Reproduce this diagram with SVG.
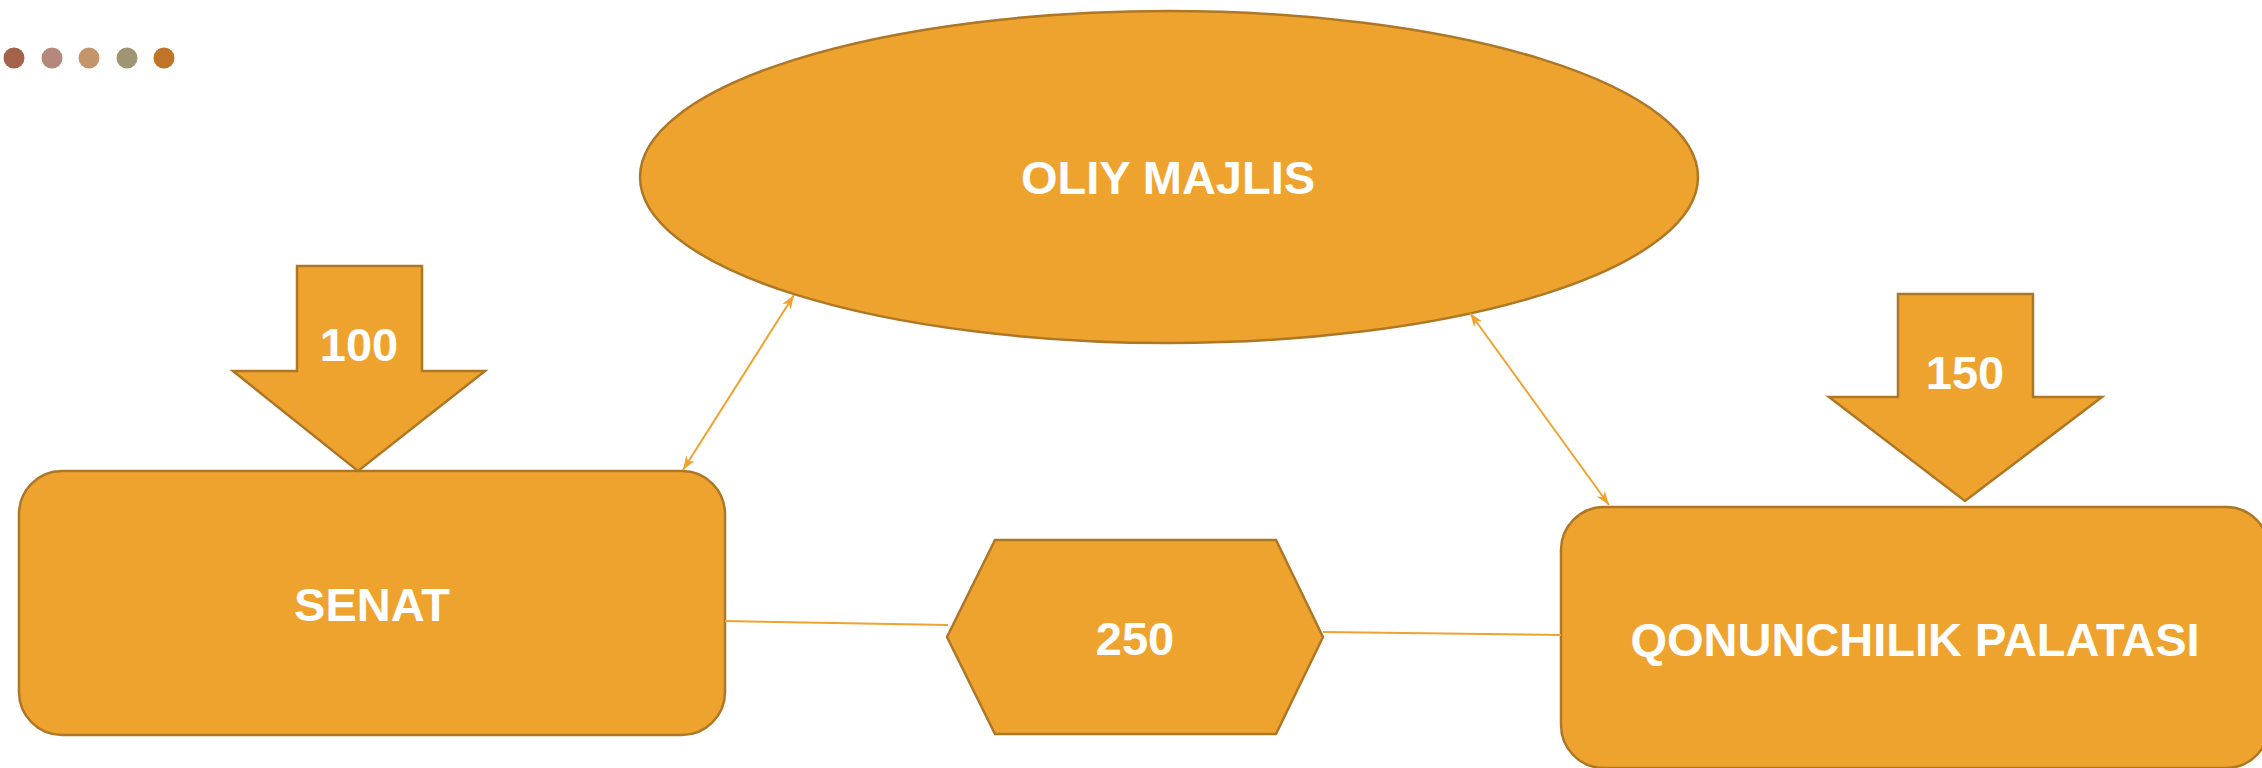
<svg xmlns="http://www.w3.org/2000/svg" width="2262" height="768" viewBox="0 0 2262 768">
<defs>
<style>
.shape{fill:#EFA32F;stroke:#AD7726;stroke-width:2.5;}
.lbl{font-family:"Liberation Sans",Arial,sans-serif;font-weight:bold;font-size:47px;fill:#FFFFFF;text-anchor:middle;}
.conn{stroke:#EFA22E;stroke-width:2;fill:none;}
</style>
<marker id="ah" viewBox="0 0 14 10" refX="14" refY="5" markerWidth="14" markerHeight="10" markerUnits="userSpaceOnUse" orient="auto-start-reverse">
<path d="M0,0 L14,5 L0,10 L4,5 Z" fill="#EFA22E"/>
</marker>
</defs>
<rect width="2262" height="768" fill="#FFFFFF"/>
<g id="dots">
<circle cx="14" cy="58" r="10.5" fill="#A4624A"/>
<circle cx="52" cy="58" r="10.5" fill="#B6887C"/>
<circle cx="89" cy="58" r="10.5" fill="#C4956A"/>
<circle cx="127" cy="58" r="10.5" fill="#A09572"/>
<circle cx="164" cy="58" r="10.5" fill="#C07428"/>
</g>
<g id="oliy-majlis">
<ellipse class="shape" cx="1169" cy="177" rx="529" ry="166"/>
<text class="lbl" x="1168" y="194">OLIY MAJLIS</text>
</g>
<g id="senat">
<rect class="shape" x="19" y="471" width="706" height="264" rx="43" ry="43"/>
<text class="lbl" x="372" y="621">SENAT</text>
</g>
<g id="qonunchilik">
<rect class="shape" x="1561" y="507" width="708" height="261" rx="43" ry="43"/>
<text class="lbl" x="1915" y="656">QONUNCHILIK PALATASI</text>
</g>
<g id="hex-250">
<polygon class="shape" points="995,540 1276,540 1323,637 1276,734 995,734 947,637"/>
<text class="lbl" x="1135" y="655">250</text>
</g>
<g id="arrow-100">
<polygon class="shape" points="297,266 422,266 422,371 485,371 358,471 233,371 297,371"/>
<text class="lbl" x="359" y="361">100</text>
</g>
<g id="arrow-150">
<polygon class="shape" points="1898,294 2033,294 2033,397 2102,397 1965,501 1829,397 1898,397"/>
<text class="lbl" x="1965" y="389">150</text>
</g>
<g id="connectors">
<line class="conn" x1="725" y1="621" x2="948" y2="625"/>
<line class="conn" x1="1323" y1="632" x2="1561" y2="635"/>
<line class="conn" x1="794" y1="295" x2="683" y2="470" marker-start="url(#ah)" marker-end="url(#ah)"/>
<line class="conn" x1="1470" y1="313" x2="1609" y2="505" marker-start="url(#ah)" marker-end="url(#ah)"/>
</g>
</svg>
